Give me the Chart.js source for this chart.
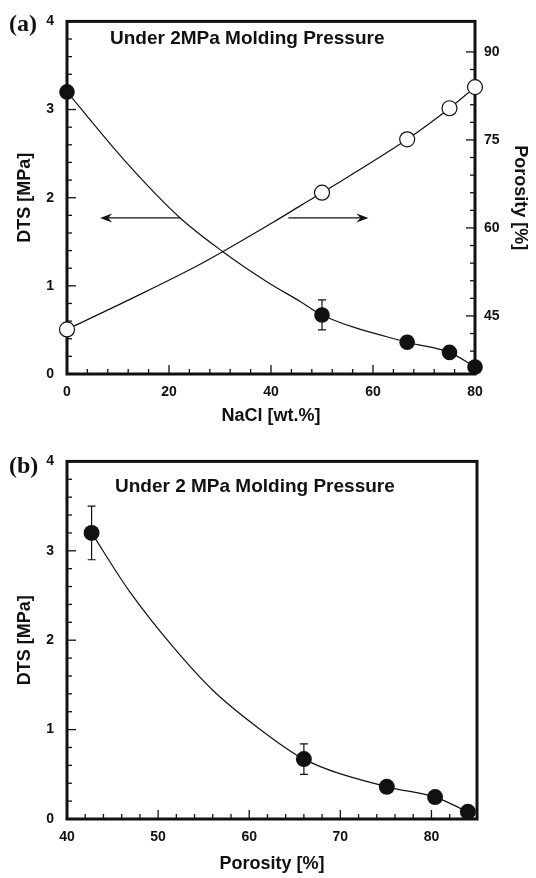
<!DOCTYPE html>
<html>
<head>
<meta charset="utf-8">
<title>DTS and porosity vs NaCl content</title>
<script src="https://cdn.jsdelivr.net/npm/chart.js@4.4.1/dist/chart.umd.min.js"></script>
<style>
  html, body { margin: 0; padding: 0; background: #fff; }
  #wrap { position: relative; width: 536px; height: 878px; }
  #chart-a { position: absolute; left: 0; top: 0; }
  #chart-b { position: absolute; left: 0; top: 440px; }
</style>
</head>
<body>
<div id="wrap">
  <canvas id="chart-a" width="536" height="440"></canvas>
  <canvas id="chart-b" width="536" height="438"></canvas>
</div>
<script>
// measured points
const nacl = [0, 50, 66.7, 75, 80];
const dts = [3.2, 0.67, 0.36, 0.245, 0.08];
const porosity = [42.7, 66.0, 75.1, 80.4, 84.0];
const dtsErrA = [0, 0.17, 0, 0, 0];
const dtsErrB = [0.3, 0.17, 0, 0, 0];

// fitted curves
const dtsFitNacl = [0, 11.8, 22.2, 30.5, 39.1, 45.8, 50, 66.7, 75, 80];
const dtsFitA = [3.2, 2.39, 1.77, 1.39, 1.05, 0.82, 0.67, 0.36, 0.245, 0.08];
const porFitNacl = [0, 11.8, 26.1, 40.5, 45.8, 50, 66.7, 75, 80];
const porFit = [42.7, 47.6, 53.8, 61.0, 63.8, 66.0, 75.1, 80.4, 84.0];
const dtsFitPor = [42.7, 46.9, 51.6, 56.0, 61.1, 66.0, 75.1, 80.4, 84.0];
const dtsFitB = [3.2, 2.54, 1.93, 1.44, 1.01, 0.67, 0.36, 0.245, 0.08];

// labelled ticks
const naclTicks = [0, 20, 40, 60, 80];
const dtsTicks = [0, 1, 2, 3, 4];
const porTicksA = [45, 60, 75, 90];
const porTicksB = [40, 50, 60, 70, 80];

// arrows in panel (a): NaCl start/end at a DTS level
const arrowFrom = [22.2, 43.4];
const arrowTo = [6.5, 59.1];
const arrowDts = 1.77;

const INK = "#111";
const SANS = "'Liberation Sans', Arial, sans-serif";

function pts(xs, ys) {
  return xs.map((x, i) => ({ x, y: ys[i] }));
}

function labelOnly(list) {
  return (v) => (list.some((t) => Math.abs(t - v) < 1e-6) ? String(Math.round(v)) : "");
}

function fixWidth(w) {
  return (scale) => { scale.width = w; };
}

function fixHeight(h) {
  return (scale) => { scale.height = h; };
}

const tickFont = { family: SANS, size: 14, weight: "bold" };
const titleFont = { family: SANS, size: 18, weight: "bold" };

// frame + inward ticks
const framePlugin = {
  id: "frame",
  beforeDatasetsDraw(chart, args, opts) {
    const { ctx, chartArea: a } = chart;
    ctx.save();
    ctx.strokeStyle = INK;
    ctx.lineWidth = 1.3;
    Object.entries(opts.axes).forEach(([id, side]) => {
      const s = chart.scales[id];
      s.ticks.forEach((t, i) => {
        const p = s.getPixelForTick(i);
        const len = t.label !== "" ? 9 : 5;
        ctx.beginPath();
        if (side === "bottom") {
          if (p < a.left + 2 || p > a.right - 2) return;
          ctx.moveTo(p, a.bottom);
          ctx.lineTo(p, a.bottom - len);
        } else if (side === "left") {
          if (p < a.top + 2 || p > a.bottom - 2) return;
          ctx.moveTo(a.left, p);
          ctx.lineTo(a.left + len, p);
        } else {
          if (p < a.top + 2 || p > a.bottom - 2) return;
          ctx.moveTo(a.right, p);
          ctx.lineTo(a.right - len, p);
        }
        ctx.stroke();
      });
    });
    ctx.lineWidth = 3;
    ctx.strokeRect(a.left, a.top, a.width, a.height);
    ctx.restore();
  },
  afterDatasetsDraw(chart, args, opts) {
    const { ctx, chartArea: a } = chart;
    const xs = chart.scales[opts.err.x];
    const ys = chart.scales[opts.err.y];
    ctx.save();
    ctx.strokeStyle = INK;
    ctx.fillStyle = INK;
    ctx.lineWidth = 1.2;
    opts.err.xs.forEach((xv, i) => {
      const e = opts.err.errs[i];
      if (!e) return;
      const px = xs.getPixelForValue(xv);
      const top = ys.getPixelForValue(opts.err.ys[i] + e);
      const bot = ys.getPixelForValue(opts.err.ys[i] - e);
      ctx.beginPath();
      ctx.moveTo(px, top);
      ctx.lineTo(px, bot);
      ctx.moveTo(px - 4, top);
      ctx.lineTo(px + 4, top);
      ctx.moveTo(px - 4, bot);
      ctx.lineTo(px + 4, bot);
      ctx.stroke();
    });

    if (opts.arrows) {
      const ax = chart.scales.x;
      const py = chart.scales.y.getPixelForValue(arrowDts);
      arrowFrom.forEach((f, i) => {
        const x1 = ax.getPixelForValue(f);
        const x2 = ax.getPixelForValue(arrowTo[i]);
        const dir = Math.sign(x2 - x1);
        ctx.beginPath();
        ctx.moveTo(x1, py);
        ctx.lineTo(x2 - dir * 4, py);
        ctx.stroke();
        ctx.beginPath();
        ctx.moveTo(x2, py);
        ctx.lineTo(x2 - dir * 12, py - 4.5);
        ctx.lineTo(x2 - dir * 8, py);
        ctx.lineTo(x2 - dir * 12, py + 4.5);
        ctx.closePath();
        ctx.fill();
      });
    }

    ctx.font = "bold 19px " + SANS;
    ctx.textAlign = "left";
    ctx.textBaseline = "middle";
    ctx.fillText(opts.title, a.left + opts.titleDx, a.top + opts.titleDy);

    ctx.font = "bold 24px 'Liberation Serif', 'Times New Roman', serif";
    ctx.fillText(opts.tag, 9, opts.tagY);
    ctx.restore();
  },
};

const lineStyle = {
  borderColor: INK,
  borderWidth: 1.2,
  pointRadius: 0,
  cubicInterpolationMode: "monotone",
  fill: false,
  order: 2,
};

new Chart(document.getElementById("chart-a"), {
  type: "scatter",
  data: {
    datasets: [
      { ...lineStyle, label: "DTS fit", data: pts(dtsFitNacl, dtsFitA), showLine: true, yAxisID: "y" },
      { ...lineStyle, label: "Porosity fit", data: pts(porFitNacl, porFit), showLine: true, yAxisID: "y2" },
      {
        label: "DTS",
        data: pts(nacl, dts),
        yAxisID: "y",
        pointRadius: 7.8,
        pointBackgroundColor: INK,
        pointBorderColor: INK,
        pointBorderWidth: 0,
        clip: false,
        order: 0,
      },
      {
        label: "Porosity",
        data: pts(nacl, porosity),
        yAxisID: "y2",
        pointRadius: 7.5,
        pointBackgroundColor: "#fff",
        pointBorderColor: INK,
        pointBorderWidth: 1.2,
        clip: false,
        order: 0,
      },
    ],
  },
  options: {
    responsive: false,
    animation: false,
    layout: { padding: { top: 16, right: 0, bottom: 0, left: 0 } },
    plugins: {
      legend: { display: false },
      tooltip: { enabled: false },
      frame: {
        axes: { x: "bottom", y: "left", y2: "right" },
        err: { x: "x", y: "y", xs: nacl, ys: dts, errs: dtsErrA },
        arrows: true,
        title: "Under 2MPa Molding Pressure",
        titleDx: 43,
        titleDy: 17,
        tag: "(a)",
        tagY: 25,
      },
    },
    scales: {
      x: {
        type: "linear",
        min: 0,
        max: 80,
        afterFit: fixHeight(66),
        grid: { display: false, drawTicks: false },
        border: { display: false },
        ticks: { stepSize: 4, autoSkip: false, maxRotation: 0, padding: 10, color: INK, font: tickFont, callback: labelOnly(naclTicks) },
        title: { display: true, text: "NaCl [wt.%]", color: INK, font: titleFont, padding: { top: 0, bottom: 13 } },
      },
      y: {
        position: "left",
        min: 0,
        max: 4,
        afterFit: fixWidth(67),
        grid: { display: false, drawTicks: false },
        border: { display: false },
        ticks: { stepSize: 0.2, autoSkip: false, padding: 13, color: INK, font: tickFont, callback: labelOnly(dtsTicks) },
        title: { display: true, text: "DTS [MPa]", color: INK, font: titleFont, padding: { top: 14, bottom: 0 } },
      },
      y2: {
        position: "right",
        min: 35.1,
        max: 95.2,
        afterFit: fixWidth(61),
        grid: { display: false, drawTicks: false },
        border: { display: false },
        ticks: { stepSize: 3, autoSkip: false, padding: 9, color: INK, font: tickFont, callback: labelOnly(porTicksA) },
        title: { display: true, text: "Porosity [%]", color: INK, font: titleFont, padding: { top: 5, bottom: 0 } },
      },
    },
  },
  plugins: [framePlugin],
});

new Chart(document.getElementById("chart-b"), {
  type: "scatter",
  data: {
    datasets: [
      { ...lineStyle, label: "DTS fit", data: pts(dtsFitPor, dtsFitB), showLine: true },
      {
        label: "DTS",
        data: pts(porosity, dts),
        pointRadius: 8,
        pointBackgroundColor: INK,
        pointBorderColor: INK,
        pointBorderWidth: 0,
        clip: false,
        order: 0,
      },
    ],
  },
  options: {
    responsive: false,
    animation: false,
    layout: { padding: { top: 18, right: 59, bottom: 0, left: 0 } },
    plugins: {
      legend: { display: false },
      tooltip: { enabled: false },
      frame: {
        axes: { x: "bottom", y: "left" },
        err: { x: "x", y: "y", xs: porosity, ys: dts, errs: dtsErrB },
        arrows: false,
        title: "Under 2 MPa Molding Pressure",
        titleDx: 48,
        titleDy: 25,
        tag: "(b)",
        tagY: 27,
      },
    },
    scales: {
      x: {
        type: "linear",
        min: 40,
        max: 85,
        afterFit: fixHeight(59),
        grid: { display: false, drawTicks: false },
        border: { display: false },
        ticks: { stepSize: 2, autoSkip: false, maxRotation: 0, padding: 10, color: INK, font: tickFont, callback: labelOnly(porTicksB) },
        title: { display: true, text: "Porosity [%]", color: INK, font: titleFont, padding: { top: 0, bottom: 3 } },
      },
      y: {
        position: "left",
        min: 0,
        max: 4,
        afterFit: fixWidth(67),
        grid: { display: false, drawTicks: false },
        border: { display: false },
        ticks: { stepSize: 0.2, autoSkip: false, padding: 13, color: INK, font: tickFont, callback: labelOnly(dtsTicks) },
        title: { display: true, text: "DTS [MPa]", color: INK, font: titleFont, padding: { top: 14, bottom: 0 } },
      },
    },
  },
  plugins: [framePlugin],
});
</script>
</body>
</html>
